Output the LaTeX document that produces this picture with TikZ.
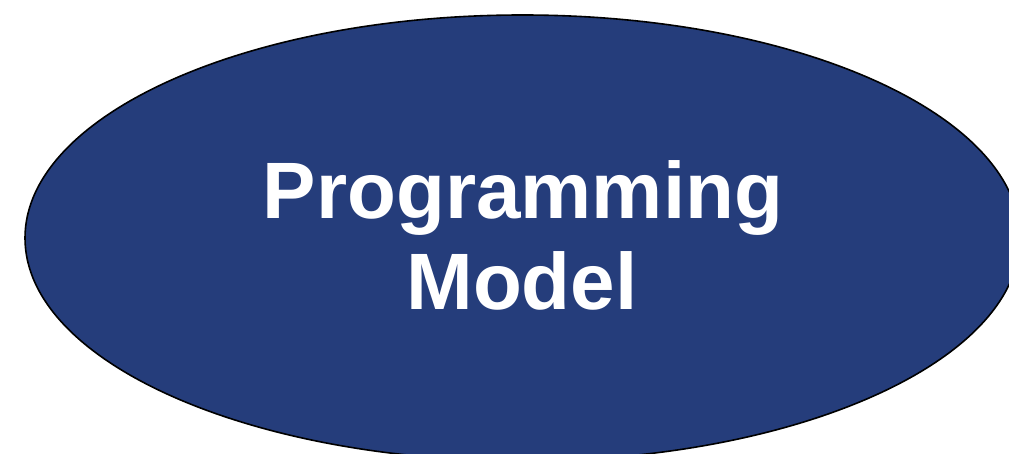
\documentclass[tikz,border=0pt]{standalone}
\usepackage{fontspec}
\setmainfont{Liberation Sans}
\usetikzlibrary{shapes.geometric}
\definecolor{pmblue}{RGB}{37,61,123}
\tikzset{
  bigoval/.style={ellipse, draw=black, line width=1.6pt, fill=pmblue, minimum width=995pt, minimum height=446pt, inner sep=0pt},
  ovaltext/.style={text=white, font=\fontsize{80pt}{90pt}\selectfont\bfseries, anchor=base, inner sep=0pt}
}
\begin{document}
\begin{tikzpicture}[x=1pt,y=1pt]
\useasboundingbox (0,0) rectangle (1009,-454);
\clip (0,0) rectangle (1009,-454);
\node[bigoval] (pm) at (522.5,-238) {};
\node[ovaltext] (t1) at (523,-219) {Programming};
\node[ovaltext] (t2) at (522,-309) {Model};
\end{tikzpicture}
\end{document}
